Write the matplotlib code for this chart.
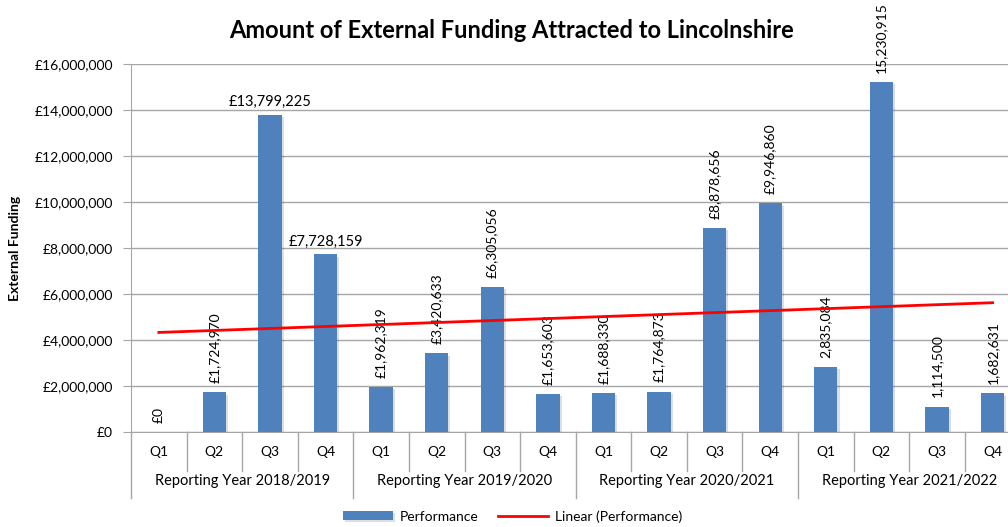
import numpy as np
import matplotlib.pyplot as plt
import matplotlib.patheffects as pe
from matplotlib.ticker import FuncFormatter

plt.rcParams['font.family'] = ['Lato', 'DejaVu Sans']

years = ["Reporting Year 2018/2019", "Reporting Year 2019/2020",
         "Reporting Year 2020/2021", "Reporting Year 2021/2022"]
quarters = ["Q1", "Q2", "Q3", "Q4"]
performance = [0, 1724970, 13799225, 7728159,
               1962319, 3420633, 6305056, 1653603,
               1688330, 1764873, 8878656, 9946860,
               2835084, 15230915, 1114500, 1682631]
labels = ["£0", "£1,724,970", "£13,799,225", "£7,728,159",
          "£1,962,319", "£3,420,633", "£6,305,056", "£1,653,603",
          "£1,688,330", "£1,764,873", "£8,878,656", "£9,946,860",
          "2,835,084", "15,230,915", "1,114,500", "1,682,631"]
horizontal = [2, 3]

blue = "#4f81bd"
grid_c = "#a6a6a6"

fig = plt.figure(figsize=(10.08, 5.27), dpi=100)
ax = fig.add_axes([0.130, 0.180, 0.885, 0.698])

x = np.arange(len(performance))
bars = ax.bar(x, performance, width=0.42, color=blue, zorder=3, label="Performance")
for b in bars:
    b.set_path_effects([pe.SimplePatchShadow(offset=(1.5, -1.5), alpha=0.15), pe.Normal()])

# linear trendline
k, c = np.polyfit(x + 1, performance, 1)
trend, = ax.plot(x, k * (x + 1) + c, color="#ff0000", lw=2, zorder=4, label="Linear (Performance)")

for i, (v, t) in enumerate(zip(performance, labels)):
    if i in horizontal:
        ax.text(i, v + 250000, t, ha="center", va="bottom", fontsize=10.5)
    else:
        ax.text(i, v + 400000, t, ha="center", va="bottom", rotation=90, fontsize=10)

ax.set_ylim(0, 16000000)
ax.set_yticks(np.arange(0, 16000001, 2000000))
ax.yaxis.set_major_formatter(FuncFormatter(lambda v, p: "£{:,.0f}".format(v)))
ax.set_xlim(-0.5, 15.55)
ax.set_xticks([])
ax.grid(axis="y", color=grid_c, lw=1, zorder=0)
for s in ["top", "right"]:
    ax.spines[s].set_visible(False)
ax.spines["left"].set_color(grid_c)
ax.spines["bottom"].set_color(grid_c)
ax.tick_params(axis="y", length=6, color=grid_c, labelsize=10, pad=7)

ax.set_ylabel("External Funding", fontsize=10, fontweight="bold", labelpad=10)
fig.text(0.507, 0.943, "Amount of External Funding Attracted to Lincolnshire",
         ha="center", va="center", fontsize=17, fontweight="bold")

# two-level category axis
tr = ax.get_xaxis_transform()
for i in range(len(performance) + 1):
    low = -0.178 if i % 4 == 0 else -0.105
    ax.plot([i - 0.5, i - 0.5], [0, low], color=grid_c, lw=1, transform=tr, clip_on=False)
for i in range(len(performance)):
    ax.text(i, -0.055, quarters[i % 4], ha="center", va="center", fontsize=10, transform=tr)
for j, y in enumerate(years):
    ax.text(j * 4 + 1.5, -0.133, y, ha="center", va="center", fontsize=10.5, transform=tr)

ax.legend(handles=[bars, trend], loc="upper center", bbox_to_anchor=(0.428, -0.178), ncol=2,
          frameon=False, fontsize=10, handlelength=3.6, handleheight=0.6,
          handletextpad=0.5, columnspacing=1.4)

fig.savefig("out.png", dpi=100)
